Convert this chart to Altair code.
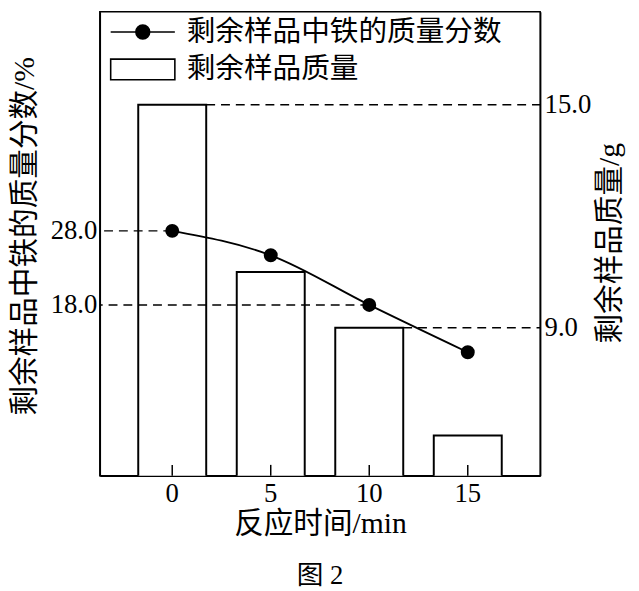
import altair as alt
import pandas as pd

# ---- data ----
times = [0, 5, 10, 15]
fe_fraction = [28.0, 24.7, 18.0, 11.6]      # 剩余样品中铁的质量分数 / %
sample_mass = [15.0, 10.5, 9.0, 6.1]        # 剩余样品质量 / g
series_names = ["剩余样品中铁的质量分数", "剩余样品质量"]
left_ticks = [28.0, 18.0]
right_ticks = [15.0, 9.0]
ref_times = [0, 10]

df = pd.DataFrame({"t": times, "fe": fe_fraction, "mass": sample_mass})
ref_df = df[df["t"].isin(ref_times)].reset_index(drop=True)
legend_df = pd.DataFrame({"series": series_names})

W, H = 446, 470
CJK = "Liberation Serif, Noto Sans CJK SC"
NUM = "Liberation Serif"

xscale = alt.Scale(domain=times, paddingInner=0.31, paddingOuter=0.39)
x_axis = alt.Axis(
    title="反应时间/min", labelAngle=0, ticks=False, tickSize=0,
    labelPadding=18, labelBaseline="middle", labelFont=NUM, labelFontSize=27,
    labelColor="black", titleFont=CJK, titleFontSize=30, titleFontWeight="normal",
    titleColor="black", titleY=49, titleBaseline="middle",
    domainColor="black", domainWidth=1.5, grid=False,
)
yL = alt.Scale(domain=[-5.07, 57.6], nice=False, zero=False)
yR = alt.Scale(domain=[5.02, 17.5], nice=False, zero=False)

left_axis = alt.Axis(
    orient="left", values=left_ticks, format=".1f", ticks=False, tickSize=0,
    labelPadding=3, labelFont=NUM, labelFontSize=27, labelColor="black",
    title="剩余样品中铁的质量分数/%", titleFont=CJK, titleFontSize=30,
    titleFontWeight="normal", titleColor="black", titleX=-76, titleY=227,
    titleAngle=270, titleBaseline="middle", titleAlign="center",
    domainColor="black", domainWidth=1.5, grid=False,
)
right_axis = alt.Axis(
    orient="right", values=right_ticks, format=".1f", ticks=False, tickSize=0,
    labelPadding=4, labelFont=NUM, labelFontSize=27, labelColor="black",
    title="剩余样品质量/g", titleFont=CJK, titleFontSize=30,
    titleFontWeight="normal", titleColor="black", titleX=70, titleY=234,
    titleAngle=270, titleBaseline="middle", titleAlign="center",
    domainColor="black", domainWidth=1.5, grid=False,
)

x_enc = alt.X("t:O", scale=xscale, axis=x_axis)
dash = [9, 6]

bars = alt.Chart(df).mark_bar(fill="white", stroke="black", strokeWidth=2, clip=True).encode(
    x=x_enc, y=alt.Y("mass:Q", scale=yR, axis=right_axis)
)
right_ref = alt.Chart(ref_df).mark_rule(color="black", strokeWidth=1.5, strokeDash=dash).encode(
    x=alt.X("t:O", bandPosition=1, scale=xscale, axis=x_axis),
    x2=alt.value(W),
    y=alt.Y("mass:Q", scale=yR, axis=right_axis),
)

left_ref = alt.Chart(ref_df).mark_rule(color="black", strokeWidth=1.5, strokeDash=dash).encode(
    x=alt.X("t:O", bandPosition=0.5, scale=xscale, axis=x_axis),
    x2=alt.value(0),
    y=alt.Y("fe:Q", scale=yL, axis=left_axis),
)
line = alt.Chart(df).mark_line(color="black", strokeWidth=1.8, interpolate="monotone").encode(
    x=x_enc, y=alt.Y("fe:Q", scale=yL, axis=left_axis)
)
pts = alt.Chart(df).mark_circle(size=200, color="black", opacity=1).encode(
    x=x_enc, y=alt.Y("fe:Q", scale=yL, axis=left_axis)
)
xticks = alt.Chart(df).mark_rule(color="black", strokeWidth=1.5).encode(
    x=x_enc, y=alt.value(H), y2=alt.value(H - 11)
)

# legend symbols: a line with a dot, and an open rectangle (symbol box 20px, paths extend beyond)
LINE_PATH = "M-3.25,0L3.25,0M0.7,0A0.7,0.7,0,1,1,-0.7,0A0.7,0.7,0,1,1,0.7,0Z"
RECT_PATH = "M-3.25,-1.05L3.25,-1.05L3.25,1.05L-3.25,1.05Z"
leg = alt.Legend(
    title=None, orient="none", legendX=29, legendY=6,
    labelFont="Noto Sans CJK SC", labelFontSize=29, labelColor="black", labelLimit=500,
    symbolSize=400, symbolStrokeColor="black", symbolStrokeWidth=1.6,
    symbolOpacity=1, labelOffset=30, rowPadding=8, padding=0,
)
legend_layer = alt.Chart(legend_df).mark_point(filled=False, strokeWidth=1.6).encode(
    shape=alt.Shape("series:N", scale=alt.Scale(domain=series_names, range=[LINE_PATH, RECT_PATH]), legend=leg),
    fill=alt.Fill("series:N", scale=alt.Scale(domain=series_names, range=["black", "white"]), legend=leg),
    stroke=alt.Stroke("series:N", scale=alt.Scale(domain=series_names, range=["black", "black"]), legend=leg),
).transform_filter("false")

layer_right = alt.layer(bars, right_ref)
layer_left = alt.layer(left_ref, line, pts, xticks, legend_layer)

chart = (
    alt.layer(layer_right, layer_left)
    .resolve_scale(y="independent")
    .properties(
        width=W, height=H,
        autosize=alt.AutoSizeParams(type="none"),
        padding={"left": 93, "top": 0, "right": 92, "bottom": 113},
        title=alt.TitleParams("图 2", orient="bottom", anchor="middle", font=CJK,
                              fontSize=27, fontWeight="normal", color="black",
                              offset=25, baseline="top"),
    )
    .configure(background="white", view=alt.ViewConfig(stroke="black", strokeWidth=1.5))
)

chart.save("out.html", embed_options={"renderer": "svg", "actions": False})
